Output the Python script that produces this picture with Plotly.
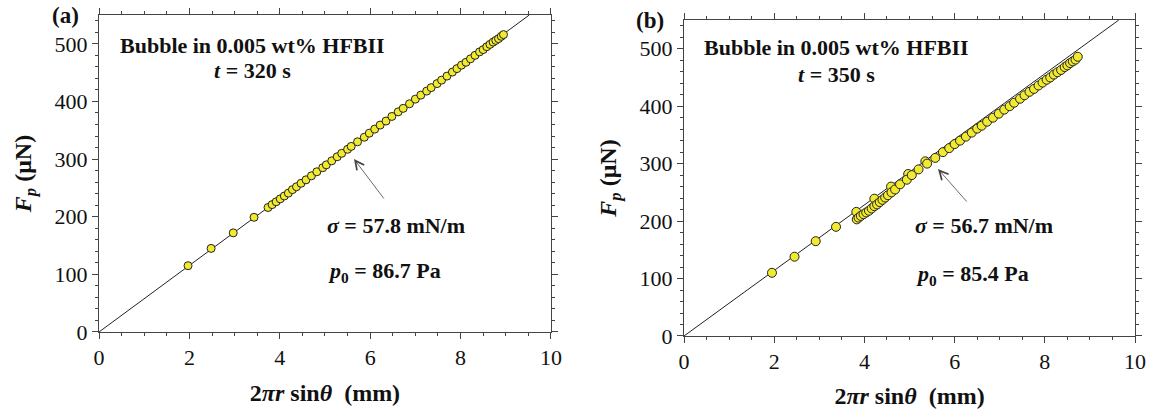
import plotly.graph_objects as go

# ---------------- data ----------------
# Panel (a): t = 320 s
xa = [1.97, 2.48, 2.97, 3.43, 3.74, 3.83, 3.92, 4.01, 4.10, 4.19, 4.28, 4.37, 4.47,
      4.58, 4.70, 4.82, 4.95, 5.03, 5.15, 5.27, 5.37, 5.50, 5.58, 5.72, 5.87, 5.98,
      6.10, 6.22, 6.35, 6.48, 6.62, 6.73, 6.87, 7.00, 7.12, 7.25, 7.35, 7.48, 7.58,
      7.70, 7.82, 7.92, 8.02, 8.12, 8.22, 8.32, 8.42, 8.50, 8.58, 8.65, 8.72, 8.78,
      8.84, 8.90, 8.95]
ya = [115, 145, 172, 199, 216, 221, 226, 231, 236, 241, 247, 252, 258,
      264, 271, 278, 285, 290, 297, 304, 310, 317, 322, 330, 338, 345,
      352, 359, 366, 374, 382, 388, 396, 404, 411, 418, 424, 431, 437,
      444, 451, 457, 463, 468, 474, 480, 486, 490, 495, 499, 503, 506,
      509, 513, 516]
fit_a_x = [0, 9.52]
fit_a_y = [0, 550]

# Panel (b): t = 350 s
xb = [1.95, 2.45, 2.92, 3.37, 3.83, 3.87, 3.92, 3.98, 4.04, 4.10, 4.16, 4.22,
      4.28, 4.34, 4.40, 4.46, 4.52, 4.60, 4.68, 4.79, 4.94, 5.05, 5.20, 5.39,
      5.57, 5.74, 5.88, 6.00, 6.12, 6.25, 6.38, 6.50, 6.60, 6.72, 6.85, 6.98,
      7.10, 7.22, 7.32, 7.45, 7.55, 7.66, 7.76, 7.86, 7.95, 8.04, 8.12, 8.20,
      8.28, 8.36, 8.44, 8.50, 8.56, 8.62, 8.68, 8.73]
yb = [110, 138, 165, 190, 203, 206, 209, 212, 215, 218, 222, 226,
      229, 233, 237, 241, 245, 250, 255, 264, 272, 280, 290, 300,
      310, 320, 327, 334, 340, 347, 354, 361, 366, 373, 380, 387,
      394, 400, 406, 413, 419, 425, 430, 436, 441, 446, 450, 455,
      459, 463, 468, 471, 475, 478, 481, 486]
xb2 = [3.82, 4.22, 4.59, 4.97, 5.35]
yb2 = [216, 239, 260, 282, 304]
fit_b_x = [0, 9.64]
fit_b_y = [0, 550]

FONT = "Liberation Serif"
MARK = dict(size=8, color="#f2ea2e", line=dict(color="#222222", width=1))
MARK_B = dict(size=9, color="#f2ea2e", line=dict(color="#222222", width=1))

fig = go.Figure()
fig.add_trace(go.Scatter(x=fit_a_x, y=fit_a_y, mode="lines",
                         line=dict(color="#222222", width=1), xaxis="x", yaxis="y"))
fig.add_trace(go.Scatter(x=xa, y=ya, mode="markers", marker=MARK, xaxis="x", yaxis="y"))
fig.add_trace(go.Scatter(x=fit_b_x, y=fit_b_y, mode="lines",
                         line=dict(color="#222222", width=1), xaxis="x2", yaxis="y2"))
fig.add_trace(go.Scatter(x=xb2, y=yb2, mode="markers", marker=MARK_B, xaxis="x2", yaxis="y2"))
fig.add_trace(go.Scatter(x=xb, y=yb, mode="markers", marker=MARK_B, xaxis="x2", yaxis="y2"))

tickfont = dict(family=FONT, size=22, color="#111111")
titlefont = dict(family=FONT, size=24, color="#111111")

def xaxis(domain, anchor):
    return dict(domain=domain, anchor=anchor, range=[0, 10], dtick=2, tick0=0,
                automargin=False,
                showgrid=False, zeroline=False, showline=True, linecolor="#444444",
                linewidth=1.2, mirror="allticks", ticks="outside", ticklen=6,
                tickcolor="#444444", tickfont=tickfont,
                minor=dict(dtick=0.5, ticks="outside", ticklen=3, tickcolor="#444444"),
                title=dict(text="<b>2<i>πr</i> sin<i>θ</i>  (mm)</b>", font=titlefont, standoff=14))

def yaxis(domain, anchor):
    return dict(domain=domain, anchor=anchor, range=[0, 550], dtick=100, tick0=0,
                automargin=False,
                showgrid=False, zeroline=False, showline=True, linecolor="#444444",
                linewidth=1.2, mirror="allticks", ticks="outside", ticklen=6,
                tickcolor="#444444", tickfont=tickfont,
                minor=dict(dtick=20, ticks="outside", ticklen=3, tickcolor="#444444"),
                title=dict(text="<b><i>F</i><sub><i>p</i></sub> (μN)</b>", font=titlefont, standoff=16))

fig.update_layout(
    width=1150, height=409, margin=dict(l=0, r=0, t=0, b=0, autoexpand=False),
    paper_bgcolor="white", plot_bgcolor="white", showlegend=False,
    xaxis=xaxis([0.0861, 0.4791], "y"),
    yaxis=yaxis([0.1883, 0.9633], "x"),
    xaxis2=xaxis([0.5948, 0.9870], "y2"),
    yaxis2=yaxis([0.1785, 0.9511], "x2"),
)

def ann(text, x, y, size=22, xanchor="center"):
    fig.add_annotation(text=text, x=x, y=y, xref="paper", yref="paper", showarrow=False,
                       font=dict(family=FONT, size=size, color="#111111"),
                       xanchor=xanchor, yanchor="middle")

# Panel labels
ann("<b>(a)</b>", 65 / 1150, 1 - 16 / 409, size=23)
ann("<b>(b)</b>", 650 / 1150, 1 - 20 / 409, size=23)

# Panel (a) texts
ann("<b>Bubble in 0.005 wt% HFBII</b>", 252 / 1150, 1 - 46 / 409)
ann("<b><i>t</i> = 320 s</b>", 252 / 1150, 1 - 71 / 409)
ann("<b><i>σ</i> = 57.8 mN/m</b>", 325 / 1150, 1 - 225 / 409, xanchor="left")
ann("<b><i>p</i><sub>0</sub> = 86.7 Pa</b>", 326 / 1150, 1 - 272 / 409, xanchor="left")

# Panel (b) texts
ann("<b>Bubble in 0.005 wt% HFBII</b>", 836 / 1150, 1 - 48 / 409)
ann("<b><i>t</i> = 350 s</b>", 836 / 1150, 1 - 74 / 409)
ann("<b><i>σ</i> = 56.7 mN/m</b>", 913 / 1150, 1 - 225 / 409, xanchor="left")
ann("<b><i>p</i><sub>0</sub> = 85.4 Pa</b>", 914 / 1150, 1 - 275 / 409, xanchor="left")

# Arrows (tail offset in pixels from the tip)
fig.add_annotation(x=354 / 1150, y=1 - 159 / 409, ax=31, ay=41,
                   xref="paper", yref="paper", axref="pixel", ayref="pixel",
                   showarrow=True, arrowhead=5, arrowsize=2.2, arrowwidth=0.8,
                   arrowcolor="#444444", text="")
fig.add_annotation(x=938 / 1150, y=1 - 169 / 409, ax=30, ay=34,
                   xref="paper", yref="paper", axref="pixel", ayref="pixel",
                   showarrow=True, arrowhead=5, arrowsize=2.2, arrowwidth=0.8,
                   arrowcolor="#444444", text="")

fig.write_html("out.html", config={"displayModeBar": False},
               post_script="document.body.style.margin='0';document.body.style.overflow='hidden';")
